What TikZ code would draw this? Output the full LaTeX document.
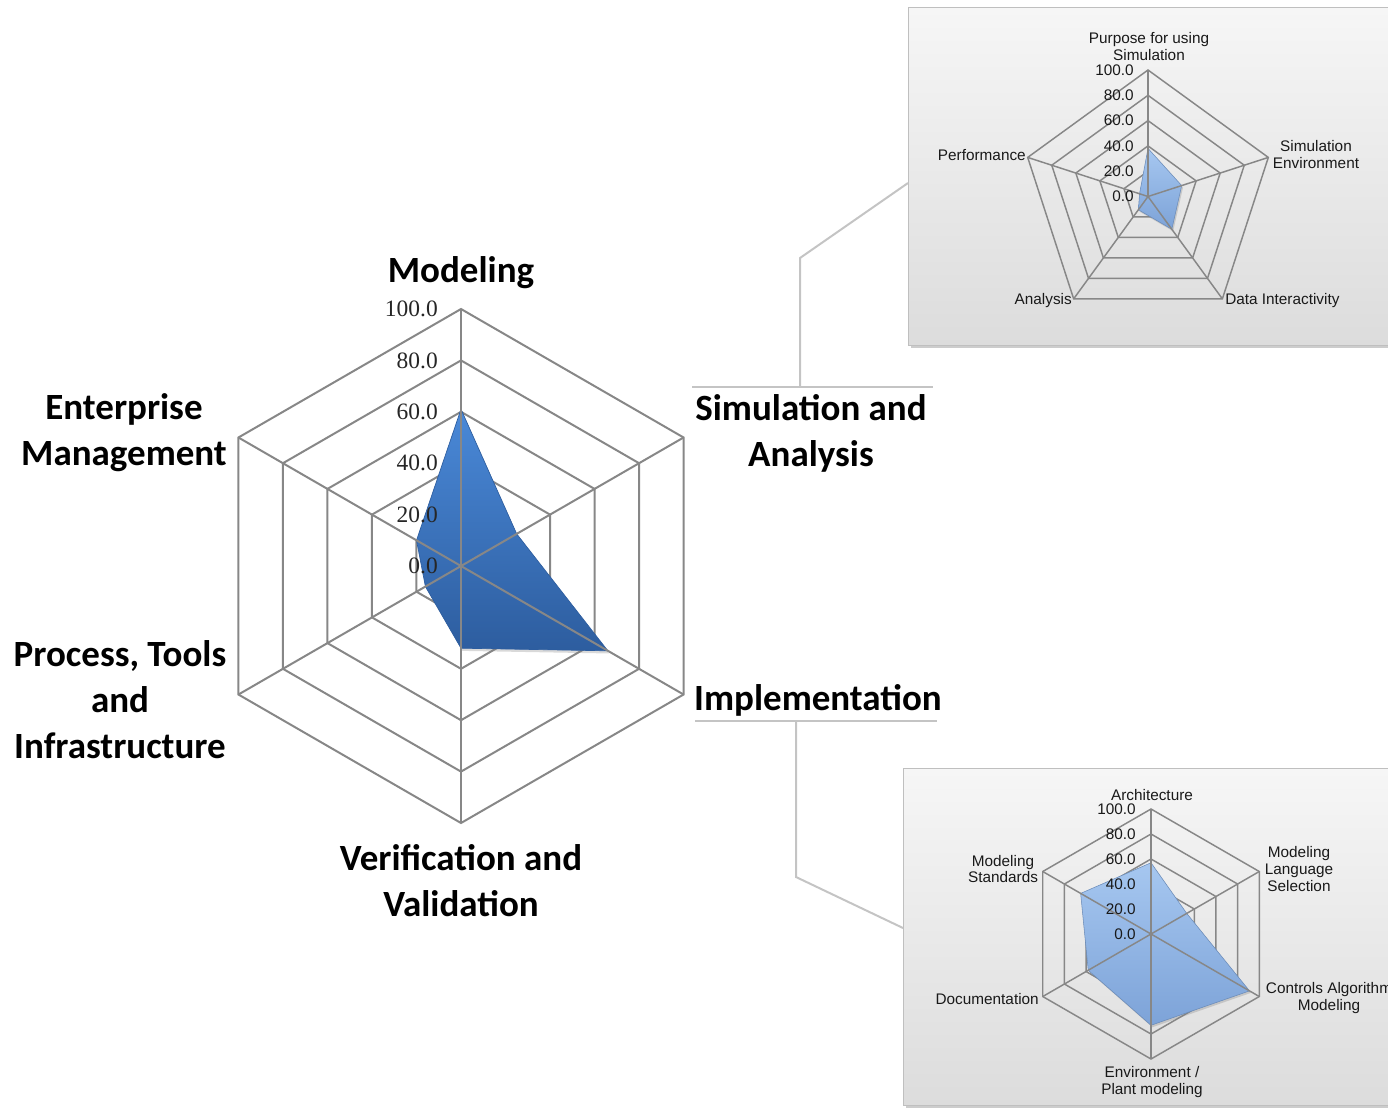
\documentclass[tikz,border=0pt]{standalone}
\usepackage{fontspec}
\setmainfont{Carlito}
\newfontfamily\smallchartfont{Liberation Sans}
\newfontfamily\tickfont{Liberation Serif}
\usepackage{tikz}
\usetikzlibrary{calc, shadows, positioning}

\definecolor{gridgray}{HTML}{878787}
\definecolor{callgray}{HTML}{C4C4C4}
\definecolor{bigtop}{HTML}{4A89D8}
\definecolor{bigbot}{HTML}{2D5D9F}
\definecolor{smalltop}{HTML}{A6C7F0}
\definecolor{smallbot}{HTML}{7DA3D8}
\definecolor{paneltop}{HTML}{F6F6F6}
\definecolor{panelbot}{HTML}{DCDCDC}

\begin{document}
\begin{tikzpicture}[x=0.75pt, y=0.75pt]

% Page frame
\useasboundingbox (0,0) rectangle (1388,-1108);

% Styles
\tikzset{grid/.style={draw=gridgray, line width=1.5pt}}
\tikzset{sgrid/.style={draw=gridgray, line width=1.1pt}}
\tikzset{axis/.style={font=\bfseries\fontsize{27.75}{34.5}\selectfont, align=center, inner sep=0pt}}
\tikzset{tick/.style={font=\tickfont\fontsize{17.6}{20}\selectfont, text=black!85, anchor=east, inner sep=0pt}}
\tikzset{slab/.style={font=\smallchartfont\fontsize{11.5}{12.75}\selectfont, align=center, inner sep=0pt, text=black!90}}
\tikzset{stick/.style={slab, anchor=east}}
\tikzset{panel/.style={draw=black!25, line width=1pt, top color=paneltop, bottom color=panelbot, anchor=north west,
  drop shadow={shadow xshift=1.5pt, shadow yshift=-2pt, opacity=0.4}}}
\tikzset{bigdata/.style={top color=bigtop, bottom color=bigbot, draw=bigbot, line width=0.5pt,
  drop shadow={shadow xshift=1pt, shadow yshift=-2pt, opacity=0.3}}}
\tikzset{smalldata/.style={top color=smalltop, bottom color=smallbot, draw=smallbot!85!black, line width=0.4pt,
  drop shadow={shadow xshift=1pt, shadow yshift=-1.5pt, opacity=0.3}}}
\tikzset{callout/.style={draw=callgray, line width=1.5pt}}

% Detail panels
\node (simpanel) [panel, minimum width=375pt, minimum height=253.5pt] at (908,-7) {};
\node (imppanel) [panel, minimum width=378pt, minimum height=252.75pt] at (903,-768) {};

% Main radar
\begin{scope}[shift={(461,-566)}]
  \foreach \r in {51.4,102.8,154.2,205.6,257}
    \draw[grid] (90:\r) -- (30:\r) -- (-30:\r) -- (-90:\r) -- (-150:\r) -- (150:\r) -- cycle;
  \path[bigdata] (90:156.8) -- (30:64.3) -- (-30:169.6) -- (-90:82.2) -- (-150:41.1) -- (150:51.4) -- cycle;
  \foreach \a in {90,30,...,-210}
    \draw[grid] (0,0) -- (\a:257);
\end{scope}

% Main scale
\foreach \v in {0,20,...,100}
  \node (mt\v) [tick] at (438, {-566+2.57*\v}) {\v.0};

% Main axis labels
\node (modeling) [axis] at (461,-273) {Modeling};
\node (simana) [axis] at (811,-433) {Simulation and\\Analysis};
\node (impl) [axis] at (818,-700) {Implementation};
\node (verval) [axis] at (461,-881) {Verification and\\Validation};
\node (process) [axis] at (120,-700) {Process, Tools\\and\\Infrastructure};
\node (enterprise) [axis] at (124,-433) {Enterprise\\Management};

% Callout lines
\coordinate (simruleL) at (692,-387);
\coordinate (simruleR) at (933,-387);
\coordinate (simjoint) at (800,-387);
\coordinate (simbend) at (800,-258);
\coordinate (simtip) at (simpanel.west |- 0,-183);

\coordinate (impruleL) at (695,-721);
\coordinate (impruleR) at (937,-721);
\coordinate (impjoint) at (796,-721);
\coordinate (impbend) at (796,-877);
\coordinate (imptip) at (imppanel.west |- 0,-928);

\draw[callout] (simruleL) -- (simruleR);
\draw[callout] (simjoint) -- (simbend) -- (simtip);
\draw[callout] (impruleL) -- (impruleR);
\draw[callout] (impjoint) -- (impbend) -- (imptip);

% Simulation radar
\begin{scope}[shift={(1148,-196.5)}]
  \foreach \r in {25.3,50.6,75.9,101.2,126.5}
    \draw[sgrid] (90:\r) -- (18:\r) -- (-54:\r) -- (-126:\r) -- (162:\r) -- cycle;
  \path[smalldata] (90:48.1) -- (18:35.4) -- (-54:40.5) -- (-126:16.4) -- (162:8.9) -- cycle;
  \foreach \a in {90,18,...,-198}
    \draw[sgrid] (0,0) -- (\a:126.5);
\end{scope}

\foreach \v in {0,20,...,100}
  \node (st\v) [stick] at (1134, {-196.5+1.265*\v}) {\v.0};

\node (purpose) [slab] at (1149,-47) {Purpose for using\\Simulation};
\node (simenv) [slab] at (1316,-155) {Simulation\\Environment};
\node (perf) [slab, anchor=east] at (1026,-155) {Performance};
\node (analysis) [slab, anchor=east] at (1072,-301) {Analysis};
\node (datainter) [slab, anchor=west] at (1225,-301) {Data Interactivity};

% Implementation radar
\begin{scope}[shift={(1151,-934)}]
  \foreach \r in {25,50,75,100,125}
    \draw[sgrid] (90:\r) -- (30:\r) -- (-30:\r) -- (-90:\r) -- (-150:\r) -- (150:\r) -- cycle;
  \path[smalldata] (90:71.25) -- (30:41.25) -- (-30:113.75) -- (-90:91.25) -- (-150:72.5) -- (150:81.25) -- cycle;
  \foreach \a in {90,30,...,-210}
    \draw[sgrid] (0,0) -- (\a:125);
\end{scope}

\foreach \v in {0,20,...,100}
  \node (it\v) [stick] at (1136, {-934+1.25*\v}) {\v.0};

\node (arch) [slab] at (1152,-795) {Architecture};
\node (modlang) [slab] at (1299,-869) {Modeling\\Language\\Selection};
\node (controls) [slab] at (1329,-998) {Controls Algorithm\\Modeling};
\node (docu) [slab, anchor=east] at (1039,-999) {Documentation};
\node (envplant) [slab] at (1152,-1082) {Environment /\\Plant modeling};
\node (modstd) [slab] at (1003,-869) {Modeling\\Standards};

\end{tikzpicture}
\end{document}
